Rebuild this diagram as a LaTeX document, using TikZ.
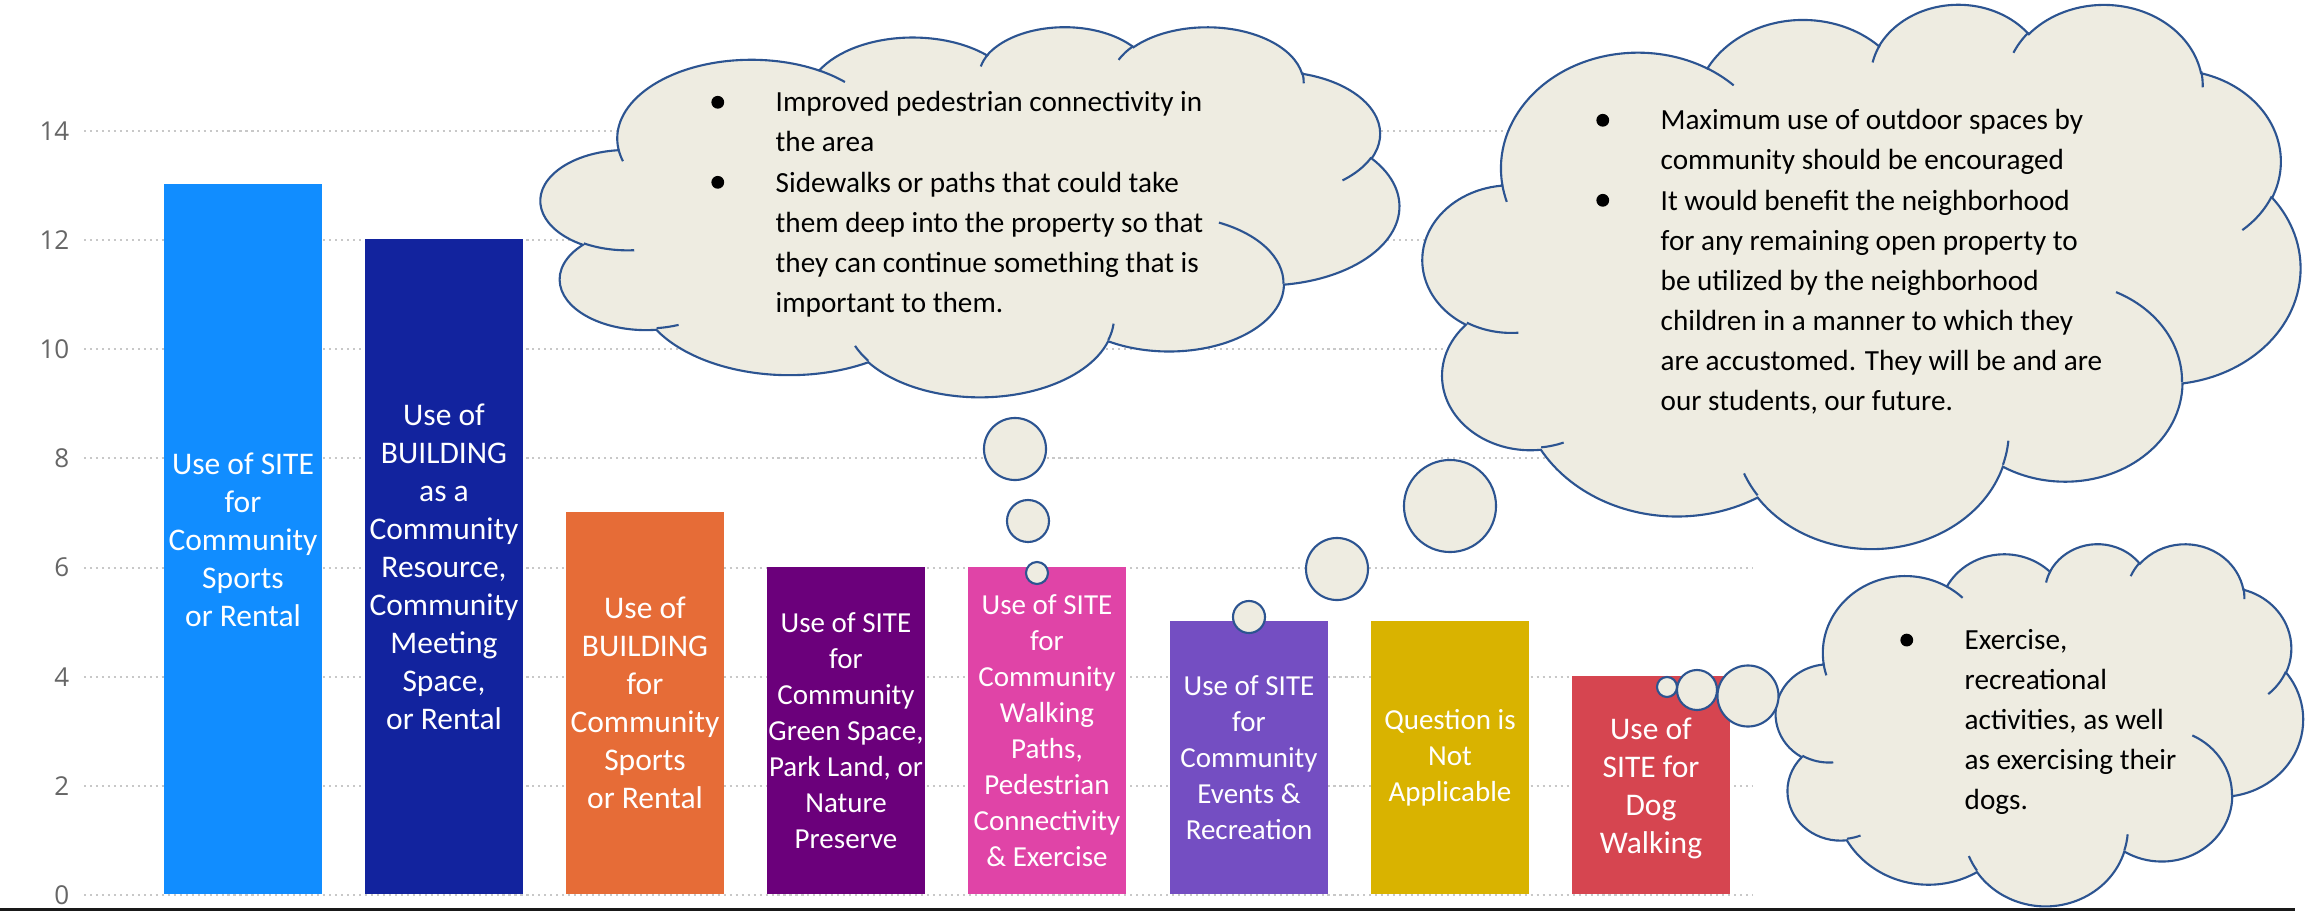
\documentclass[tikz,border=0pt]{standalone}
\usepackage{fontspec}
\setmainfont{Carlito}
\newfontfamily\axisfont{Open Sans}
\usepackage{tikz}

\definecolor{sitesports}{HTML}{118DFF}
\definecolor{buildres}{HTML}{12239E}
\definecolor{buildsports}{HTML}{E66C37}
\definecolor{greenspace}{HTML}{6B007B}
\definecolor{walkpaths}{HTML}{E044A7}
\definecolor{events}{HTML}{744EC2}
\definecolor{notapplic}{HTML}{D9B300}
\definecolor{dogwalk}{HTML}{D64550}
\definecolor{cloudfill}{HTML}{EEECE1}
\definecolor{cloudedge}{HTML}{2C5491}
\definecolor{gridgrey}{HTML}{C8C8C8}
\definecolor{axisgrey}{HTML}{666666}

\tikzset{
  bar/.style={anchor=south, minimum width=1.58cm, inner sep=0pt, text=white, align=center},
  bigbar/.style={bar, font={\fontsize{8.96pt}{10.8pt}\selectfont}},
  smallbar/.style={bar, font={\fontsize{8.25pt}{10.24pt}\selectfont}},
  bubble/.style={circle, draw=cloudedge, fill=cloudfill, line width=0.6pt, inner sep=0pt},
  cloudline/.style={draw=cloudedge, line width=0.6pt},
  cloudtext/.style={anchor=north west, inner sep=0pt, align=left, font={\fontsize{8.3pt}{11.38pt}\selectfont}},
  gridline/.style={gridgrey, line width=0.6pt, dash pattern=on 0.6pt off 1.1pt},
  axislabel/.style={anchor=east, inner sep=0pt, text=axisgrey, font={\axisfont\fontsize{7.4pt}{9pt}\selectfont}}
}

% one arc of the cloud outline: x radius, y radius, start and sweep (seen angles)
\newcommand\cloudarc[4]{%
  arc[x radius=#1, y radius=#2,
      start angle={atan2((#1)*sin(#3),(#2)*cos(#3))},
      delta angle={mod(atan2((#1)*sin(#3+#4),(#2)*cos(#3+#4))-atan2((#1)*sin(#3),(#2)*cos(#3))+720,360)}]}

% cloud in the box left, top, width, height
\newcommand\officecloud[4]{%
  \pgfmathsetmacro\cloudsx{#3/432/100}%
  \pgfmathsetmacro\cloudsy{#4/432/100}%
  \begin{scope}[shift={(#1,#2)}, x={(\cloudsx cm,0cm)}, y={(0cm,-\cloudsy cm)}]
    \filldraw[cloudline, fill=cloudfill] (39.00,143.70)
      \cloudarc{67.53}{91.90}{-190.4875}{123.7805}
      \cloudarc{53.33}{72.67}{-144.1024}{89.9452}
      \cloudarc{43.65}{59.45}{-145.8079}{99.7230}
      \cloudarc{48.57}{65.95}{-130.9861}{117.2417}
      \cloudarc{53.33}{72.73}{-78.7089}{109.0269}
      \cloudarc{67.75}{92.20}{-46.2673}{130.2690}
      \cloudarc{57.85}{78.67}{0.6250}{114.0333}
      \cloudarc{67.52}{92.15}{22.4516}{115.1726}
      \cloudarc{77.20}{105.43}{66.2426}{75.7110}
      \cloudarc{43.60}{59.18}{-274.9421}{146.7356}
      \cloudarc{43.45}{59.45}{-246.8285}{152.5189}
      -- cycle;
    \draw[cloudline]
      (46.93,261.77) \cloudarc{43.45}{59.45}{86.7420}{26.4295}
      (69.28,348.99) \cloudarc{43.60}{59.18}{73.6105}{11.4475}
      (164.78,390.90) \cloudarc{67.52}{92.15}{137.6242}{14.0811}
      (288.27,347.51) \cloudarc{67.52}{92.15}{6.4533}{15.9984}
      (341.29,229.54) \cloudarc{57.85}{78.67}{-70.2924}{70.9174}
      (417.98,153.54) \cloudarc{53.33}{72.73}{30.3180}{27.7515}
      (383.24,54.26) \cloudarc{48.57}{65.95}{-13.7443}{14.8589}
      (290.78,39.52) \cloudarc{48.57}{65.95}{-149.1815}{18.1954}
      (221.41,47.20) \cloudarc{43.65}{59.45}{-163.4943}{17.6864}
      (140.00,51.92) \cloudarc{67.53}{91.90}{-66.7070}{12.3194}
      (41.27,157.89) \cloudarc{67.53}{91.90}{157.6544}{11.8582};
  \end{scope}}

% hanging bullet, a round dot set 0.58cm before the text
\newcommand\cbullet{\llap{\tikz[baseline=0cm]\fill (0cm,0.097cm) circle[radius=0.064cm];\hspace{0.515cm}}}

\begin{document}
\begin{tikzpicture}[x=0.01cm, y=-0.01cm]
  \useasboundingbox[fill=white] (0,0) rectangle (2305,912);

  % Grid and axis
  \foreach \v in {0,2,...,14} {
    \draw[gridline] (84,{895-54.57*\v}) -- (1752,{895-54.57*\v});
    \node[axislabel] (tick\v) at (70,{895-54.57*\v}) {\v};
  }

  % Bars
  \node[bigbar, fill=sitesports, minimum height=7.094cm] (sitesports) at (243,895)
    {Use of SITE\\for\\Community\\Sports\\or Rental};
  \node[bigbar, fill=buildres, minimum height=6.549cm] (buildres) at (444,895)
    {Use of\\BUILDING\\as a\\Community\\Resource,\\Community\\Meeting\\Space,\\or Rental};
  \node[bigbar, fill=buildsports, minimum height=3.820cm] (buildsports) at (645,895)
    {Use of\\BUILDING\\for\\Community\\Sports\\or Rental};
  \node[smallbar, fill=greenspace, minimum height=3.274cm] (greenspace) at (846,895)
    {Use of SITE\\for\\Community\\Green Space,\\Park Land, or\\Nature\\Preserve};
  \node[smallbar, fill=walkpaths, minimum height=3.274cm] (walkpaths) at (1047,895)
    {Use of SITE\\for\\Community\\Walking\\Paths,\\Pedestrian\\Connectivity\\\& Exercise};
  \node[smallbar, fill=events, minimum height=2.729cm] (events) at (1249,895)
    {Use of SITE\\for\\Community\\Events \&\\Recreation};
  \node[smallbar, fill=notapplic, minimum height=2.729cm] (notapplic) at (1450,895)
    {Question is\\Not\\Applicable};
  \node[bigbar, fill=dogwalk, minimum height=2.183cm] (dogwalk) at (1651,895)
    {\\[-0.1cm]Use of\\SITE for\\Dog\\Walking};

  % Clouds
  \officecloud{541}{26}{858}{370}
  \officecloud{1423}{3}{877}{544}
  \officecloud{1776}{543}{527}{362}

  \node[cloudtext] (walktext) at (775,91)
    {\cbullet Improved pedestrian connectivity in\\the area\\\cbullet Sidewalks or paths that could take\\them deep into the property so that\\they can continue something that is\\important to them.};
  \node[cloudtext] (outdoortext) at (1660,109)
    {\cbullet Maximum use of outdoor spaces by\\community should be encouraged\\\cbullet It would benefit the neighborhood\\for any remaining open property to\\be utilized by the neighborhood\\children in a manner to which they\\are accustomed. They will be and are\\our students, our future.};
  \node[cloudtext] (dogtext) at (1964,629)
    {\cbullet Exercise,\\recreational\\activities, as well\\as exercising their\\dogs.};

  % Thought bubbles
  \node[bubble, minimum size=0.62cm] (walkbubA) at (1015,449) {};
  \node[bubble, minimum size=0.42cm] (walkbubB) at (1028,521) {};
  \node[bubble, minimum size=0.22cm] (walkbubC) at (1037,573) {};
  \node[bubble, minimum size=0.92cm] (outbubA) at (1450,506) {};
  \node[bubble, minimum size=0.62cm] (outbubB) at (1337,569) {};
  \node[bubble, minimum size=0.32cm] (outbubC) at (1249,617) {};
  \node[bubble, minimum size=0.61cm] (dogbubA) at (1748,696) {};
  \node[bubble, minimum size=0.40cm] (dogbubB) at (1697,690) {};
  \node[bubble, minimum size=0.20cm] (dogbubC) at (1667,687) {};

  % Baseline
  \draw[line width=0.035cm, black!90] (0,909.5) -- (2295,909.5);
\end{tikzpicture}
\end{document}
